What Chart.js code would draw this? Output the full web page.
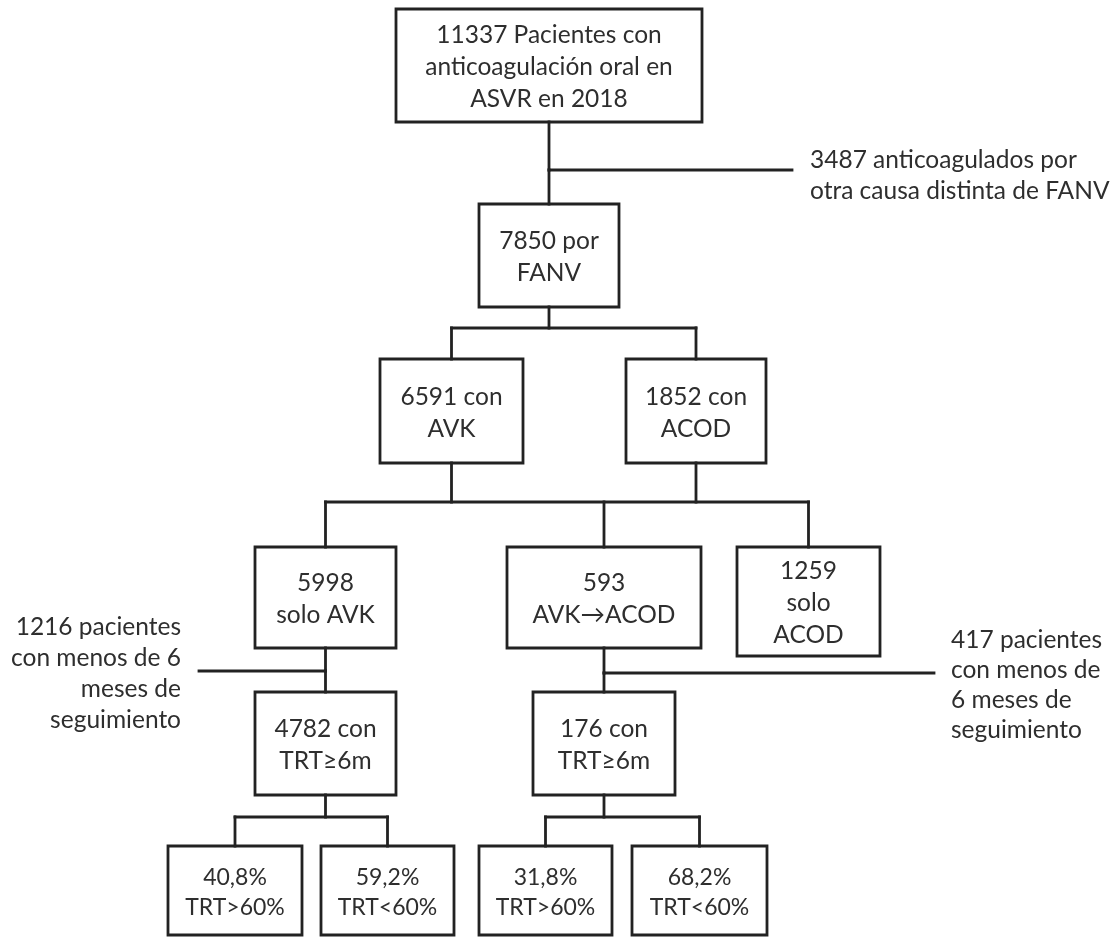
<!DOCTYPE html>
<html>
<head>
<meta charset="utf-8">
<script src="https://cdn.jsdelivr.net/npm/chart.js@4"></script>
<style>
  body { margin: 0; background: #fff; }
  #wrap { width: 1112px; height: 938px; }
</style>
</head>
<body>
<div id="wrap"><canvas id="flow"></canvas></div>
<script>
// Box texts (one entry per box, top to bottom, left to right)
const boxText = [
    ['11337 Pacientes con', 'anticoagulación oral en', 'ASVR en 2018'],
    ['7850 por', 'FANV'],
    ['6591 con', 'AVK'],
    ['1852 con', 'ACOD'],
    ['5998', 'solo AVK'],
    ['593', 'AVK→ACOD'],
    ['1259', 'solo', 'ACOD'],
    ['4782 con', 'TRT≥6m'],
    ['176 con', 'TRT≥6m'],
    ['40,8%', 'TRT>60%'],
    ['59,2%', 'TRT<60%'],
    ['31,8%', 'TRT>60%'],
    ['68,2%', 'TRT<60%']
];

// Exclusion notes
const sideText = [
    ['3487 anticoagulados por', 'otra causa distinta de FANV'],
    ['1216 pacientes', 'con menos de 6', 'meses de', 'seguimiento'],
    ['417 pacientes', 'con menos de', '6 meses de', 'seguimiento']
];

// Layout in chart units (x 0..1112, y 0..938 top-down)
const boxRects = [
    [396, 9, 702, 122],
    [479, 204, 619, 307],
    [380, 359, 523, 463],
    [626, 359, 766, 463],
    [255, 547, 396, 648],
    [507, 547, 701, 648],
    [737, 547, 880, 656],
    [255, 692, 396, 795],
    [533, 692, 675, 795],
    [168, 846, 302, 935],
    [321, 846, 454, 935],
    [479, 846, 612, 935],
    [632, 846, 767, 935]
];

// bottom row uses a slightly smaller type
const boxSmall = [9, 10, 11, 12];

const buses = [
    { parents: [0], kids: [1], y: 170 },
    { parents: [1], kids: [2, 3], y: 328 },
    { parents: [2, 3], kids: [4, 5, 6], y: 502 },
    { parents: [4], kids: [7], y: 671 },
    { parents: [5], kids: [8], y: 673 },
    { parents: [7], kids: [9, 10], y: 817 },
    { parents: [8], kids: [11, 12], y: 817 }
];

const exits = [
    { bus: 0, toX: 792, label: 0, x: 810, y: 160, gap: 31, align: 'left' },
    { bus: 3, toX: 199, label: 1, x: 181, y: 627, gap: 31, align: 'right' },
    { bus: 4, toX: 934, label: 2, x: 951, y: 640, gap: 30, align: 'left' }
];

const LINE = '#222';
const TEXT = '#2e2e2e';
const FAMILY = 'Lato, "Open Sans", sans-serif';

function cx(i) { return (boxRects[i][0] + boxRects[i][2]) / 2; }

function seg(points) {
    return {
        type: 'line',
        data: points.map(p => ({ x: p[0], y: p[1] })),
        showLine: true,
        fill: false,
        tension: 0,
        pointRadius: 0,
        borderColor: LINE,
        borderWidth: 2.8,
        borderCapStyle: 'square',
        borderJoinStyle: 'miter'
    };
}

const datasets = [];

// boxes
boxRects.forEach(r => {
    datasets.push(seg([[r[0], r[1]], [r[2], r[1]], [r[2], r[3]], [r[0], r[3]], [r[0], r[1]]]));
});

// connectors
buses.forEach(b => {
    b.parents.forEach(p => datasets.push(seg([[cx(p), boxRects[p][3]], [cx(p), b.y]])));
    const xs = b.parents.concat(b.kids).map(cx);
    const lo = Math.min(...xs), hi = Math.max(...xs);
    if (hi - lo > 1) datasets.push(seg([[lo, b.y], [hi, b.y]]));
    b.kids.forEach(k => datasets.push(seg([[cx(k), b.y], [cx(k), boxRects[k][1]]])));
});

exits.forEach(e => {
    const b = buses[e.bus];
    datasets.push(seg([[cx(b.parents[0]), b.y], [e.toX, b.y]]));
});

const textPlugin = {
    id: 'flowText',
    afterDatasetsDraw(chart) {
        const ctx = chart.ctx;
        const sx = chart.scales.x, sy = chart.scales.y;
        ctx.save();
        ctx.fillStyle = TEXT;
        ctx.textBaseline = 'middle';

        ctx.textAlign = 'center';
        boxText.forEach((lines, i) => {
            const small = boxSmall.includes(i);
            ctx.font = (small ? '23px ' : '24.5px ') + FAMILY;
            const r = boxRects[i];
            const mid = (r[1] + r[3]) / 2 + 2;
            const gap = small ? 30 : 32;
            lines.forEach((t, j) => {
                const y = mid + (j - (lines.length - 1) / 2) * gap;
                ctx.fillText(t, sx.getPixelForValue(cx(i)), sy.getPixelForValue(y));
            });
        });

        ctx.font = '24.5px ' + FAMILY;
        exits.forEach(e => {
            ctx.textAlign = e.align;
            sideText[e.label].forEach((t, j) => {
                ctx.fillText(t, sx.getPixelForValue(e.x), sy.getPixelForValue(e.y + j * e.gap));
            });
        });
        ctx.restore();
    }
};

new Chart(document.getElementById('flow'), {
    type: 'scatter',
    data: { datasets: datasets },
    options: {
        responsive: true,
        maintainAspectRatio: false,
        animation: false,
        events: [],
        layout: { padding: 0 },
        plugins: {
            legend: { display: false },
            tooltip: { enabled: false }
        },
        scales: {
            x: { type: 'linear', min: 0, max: 1112, display: false },
            y: { type: 'linear', min: 0, max: 938, reverse: true, display: false }
        }
    },
    plugins: [textPlugin]
});
</script>
</body>
</html>
